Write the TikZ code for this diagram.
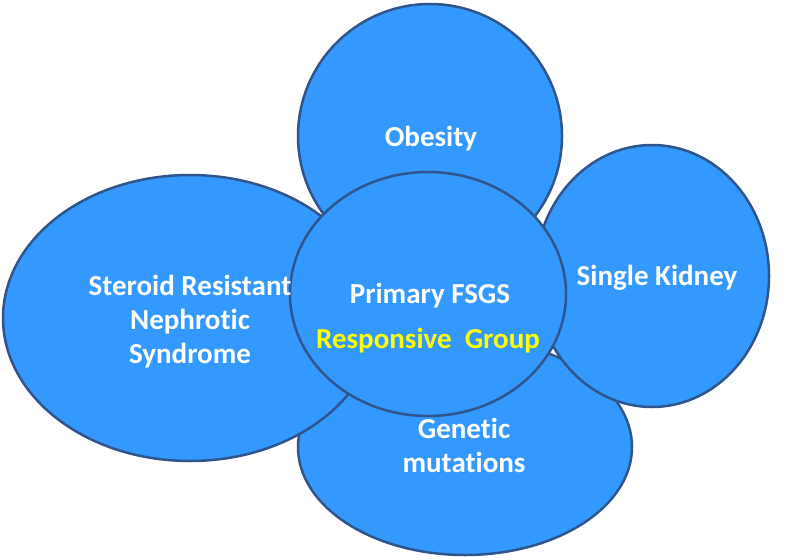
\documentclass[tikz,border=0pt]{standalone}
\usepackage{fontspec}
\setmainfont{Carlito}[Ligatures={NoCommon}]
\usetikzlibrary{shapes.geometric}
\definecolor{bubblefill}{RGB}{51,153,255}
\definecolor{bubbleline}{RGB}{47,85,140}
\definecolor{groupyellow}{RGB}{255,255,0}
\tikzset{
  bubble/.style={ellipse, draw=bubbleline, fill=bubblefill, line width=2.5pt, inner sep=0pt},
  bubbletext/.style={text=white, font=\fontsize{29}{34}\selectfont\bfseries, align=center, inner sep=0pt}
}
\begin{document}
\begin{tikzpicture}[x=1pt,y=-1pt]
            \useasboundingbox (0,0) rectangle (791,559);
            \node[bubble, minimum width=334pt, minimum height=216pt] (genetic) at (465,447) {};
            \node[bubble, minimum width=374pt, minimum height=286pt] (steroid) at (190,318) {};
            \node[bubble, minimum width=234pt, minimum height=262pt] (kidney) at (652,276) {};
            \node[bubble, minimum width=264pt, minimum height=264pt] (obesity) at (430,136) {};
            \node[bubble, minimum width=276pt, minimum height=244pt] (fsgs) at (428,294) {};
            \node[bubbletext, anchor=base] (obesitytext) at (431,146) {Obesity};
            \node[bubbletext, anchor=base] (kidneytext) at (657,285) {Single Kidney};
            \node[bubbletext, anchor=base] (steroidtext) at (190,363) {Steroid Resistant\\Nephrotic\\Syndrome};
            \node[bubbletext, anchor=base] (genetictext) at (464,472) {Genetic\\mutations};
            \node[bubbletext, anchor=base] (fsgstext) at (430,303) {Primary FSGS};
            \node[bubbletext, anchor=base, text=groupyellow] (grouptext) at (428,348) {Responsive\ \ Group};
\end{tikzpicture}
\end{document}
